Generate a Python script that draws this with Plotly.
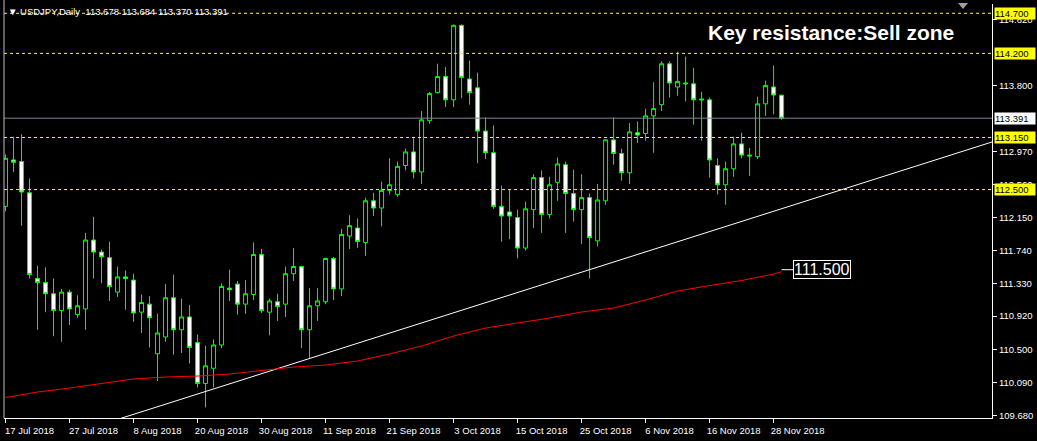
import plotly.graph_objects as go

# ---- data ----
opens = [112.29, 112.87, 112.85, 112.46, 111.39, 111.34, 111.20, 110.99, 111.22, 110.94,
         111.01, 111.87, 111.72, 111.65, 111.22, 111.41, 111.37, 110.97, 111.07, 110.45,
         110.66, 111.15, 110.75, 110.91, 110.59, 110.08, 110.27, 110.56, 111.27, 111.32,
         111.07, 111.19, 111.69, 110.97, 111.10, 111.07, 111.45, 111.54, 110.75, 111.05,
         111.10, 111.64, 111.26, 111.92, 112.02, 111.84, 112.36, 112.27, 112.49, 112.44,
         112.80, 112.97, 112.72, 113.36, 113.71, 113.91, 113.62, 114.55, 113.88, 113.77,
         113.23, 112.96, 112.29, 112.22, 112.15, 111.77, 112.25, 112.65, 112.19, 112.59,
         112.81, 112.45, 112.25, 112.40, 111.86, 112.36, 113.12, 112.95, 112.71, 113.21,
         113.20, 113.42, 113.56, 114.07, 113.78, 113.83, 113.82, 113.63, 113.62, 112.80,
         112.56, 112.76, 113.07, 112.93, 112.91, 113.57, 113.78, 113.678]
highs = [112.94, 113.16, 113.19, 112.64, 111.55, 111.53, 111.39, 111.26, 111.25, 111.18,
         111.96, 112.16, 111.75, 111.85, 111.54, 111.49, 111.45, 111.19, 111.17, 110.95,
         111.32, 111.44, 111.14, 111.06, 110.69, 110.55, 110.63, 111.33, 111.50, 111.36,
         111.37, 111.84, 111.76, 111.14, 111.20, 111.54, 111.77, 111.55, 111.27, 111.27,
         111.65, 111.66, 112.01, 112.18, 112.14, 112.40, 112.46, 112.60, 112.89, 112.85,
         113.01, 113.16, 113.48, 113.72, 114.07, 114.03, 114.56, 114.56, 114.11, 113.96,
         113.40, 113.30, 112.55, 112.50, 112.25, 112.35, 112.69, 112.74, 112.66, 112.90,
         112.85, 112.75, 112.69, 112.45, 112.57, 113.13, 113.40, 113.01, 113.33, 113.35,
         113.51, 113.84, 114.10, 114.10, 114.22, 114.16, 114.02, 113.72, 113.65, 112.89,
         112.85, 113.16, 113.21, 113.02, 113.66, 113.86, 114.05, 113.684]
lows = [112.23, 112.72, 112.05, 111.39, 110.75, 110.97, 110.67, 110.60, 110.81, 110.90,
        110.75, 111.39, 111.33, 111.11, 111.16, 111.00, 110.85, 110.71, 110.53, 110.11,
        110.60, 110.44, 110.46, 110.33, 110.03, 109.78, 110.03, 110.52, 111.11, 110.94,
        110.95, 111.12, 110.96, 110.68, 110.86, 110.91, 111.36, 110.52, 110.40, 110.86,
        111.07, 111.12, 111.17, 111.76, 111.77, 111.67, 112.17, 112.04, 112.44, 112.41,
        112.74, 112.64, 112.57, 113.32, 113.70, 113.53, 113.53, 113.64, 113.56, 112.83,
        112.88, 112.26, 111.85, 111.88, 111.64, 111.74, 112.02, 111.96, 112.14, 112.36,
        111.96, 112.10, 111.82, 111.39, 111.79, 112.31, 112.81, 112.61, 112.57, 113.08,
        113.11, 112.96, 113.48, 113.65, 113.67, 113.60, 113.31, 113.11, 112.65, 112.44,
        112.31, 112.66, 112.89, 112.67, 112.88, 113.42, 113.44, 113.370]
closes = [112.89, 112.84, 112.47, 111.44, 111.34, 111.20, 110.99, 111.22, 111.01, 111.05,
          111.87, 111.72, 111.66, 111.29, 111.41, 111.39, 110.96, 111.09, 110.90, 110.71,
          111.15, 110.75, 110.91, 110.53, 110.08, 110.30, 110.56, 111.29, 111.25, 111.07,
          111.20, 111.69, 110.99, 111.11, 111.04, 111.45, 111.54, 110.75, 111.05, 111.11,
          111.64, 111.26, 111.94, 112.05, 111.85, 112.36, 112.27, 112.49, 112.56, 112.79,
          112.97, 112.72, 113.37, 113.70, 113.91, 113.62, 114.55, 113.90, 113.71, 113.23,
          112.96, 112.29, 112.17, 112.17, 111.77, 112.26, 112.65, 112.19, 112.56, 112.82,
          112.45, 112.25, 112.40, 111.90, 112.37, 113.12, 112.95, 112.71, 113.22, 113.18,
          113.42, 113.51, 114.07, 113.83, 113.85, 113.82, 113.62, 113.62, 112.87, 112.56,
          112.76, 113.07, 112.93, 112.92, 113.57, 113.80, 113.68, 113.391]

date_labels = ["17 Jul 2018", "27 Jul 2018", "8 Aug 2018", "20 Aug 2018", "30 Aug 2018",
               "11 Sep 2018", "21 Sep 2018", "3 Oct 2018", "15 Oct 2018", "25 Oct 2018",
               "6 Nov 2018", "16 Nov 2018", "28 Nov 2018"]
price_ticks = [109.68, 110.09, 110.50, 110.92, 111.33, 111.74, 112.15, 112.56, 112.97,
               113.80, 114.62]

ma_idx = [0, 4, 8, 12, 16, 20, 24, 28, 32, 36, 40, 44, 48, 52, 56, 60, 64, 68, 72, 76,
          80, 84, 88, 92, 96, 97]
ma_val = [109.905, 109.973, 110.023, 110.082, 110.136, 110.161, 110.173, 110.198, 110.242,
          110.285, 110.310, 110.360, 110.448, 110.547, 110.672, 110.772, 110.835, 110.897,
          110.972, 111.022, 111.122, 111.234, 111.302, 111.365, 111.446, 111.475]

trend_idx = [0, 124]
trend_val = [109.188, 113.116]

levels = [114.700, 114.200, 113.150, 112.500]
bid = 113.391
ma_label = 111.500
title_text = "USDJPY,Daily  113.678 113.684 113.370 113.391"
note_text = "Key resistance:Sell zone"

# ---- figure ----
FONT = "Liberation Sans, Arial, sans-serif"
x = list(range(len(opens)))
bars_per_tick = 8
tick_pos = [i * bars_per_tick for i in range(len(date_labels))]

fig = go.Figure()
fig.add_trace(go.Scatter(x=trend_idx, y=trend_val, mode="lines",
                         line=dict(color="#ffffff", width=1), hoverinfo="skip"))
fig.add_trace(go.Scatter(x=ma_idx, y=ma_val, mode="lines",
                         line=dict(color="#ff0000", width=1), hoverinfo="skip"))
fig.add_trace(go.Candlestick(
    x=x, open=opens, high=highs, low=lows, close=closes,
    increasing=dict(line=dict(color="#00ff00", width=1), fillcolor="#000000"),
    decreasing=dict(line=dict(color="#00ff00", width=1), fillcolor="#ffffff"),
    whiskerwidth=0,
))

shapes = []
for lv in levels:
    shapes.append(dict(type="line", xref="paper", x0=0, x1=1, yref="y", y0=lv, y1=lv,
                       line=dict(color="#ffff00", width=1, dash="3px,3px")))
shapes.append(dict(type="line", xref="paper", x0=0, x1=1, yref="y", y0=bid, y1=bid,
                   line=dict(color="#778899", width=1)))
# left frame
shapes.append(dict(type="line", xref="paper", x0=0, x1=0, yref="paper", y0=0, y1=1.01,
                   line=dict(color="#c0c0c0", width=1)))
# chart shift marker
shapes.append(dict(type="path", xref="paper", yref="paper",
                   path="M 0.9656 1.0024 L 0.9757 1.0024 L 0.9706 0.988 Z",
                   fillcolor="#a0a0a0", line=dict(width=0)))

annotations = []
for lv in levels:
    annotations.append(dict(xref="paper", x=1, xanchor="left", xshift=2, yref="y", y=lv,
                            yanchor="middle", text=f"{lv:.3f}", showarrow=False,
                            bgcolor="#ffff00", font=dict(color="#000000", size=9.5, family=FONT),
                            borderpad=0, width=40, height=11, align="left"))
annotations.append(dict(xref="paper", x=1, xanchor="left", xshift=2, yref="y", y=bid,
                        yanchor="middle", text=f"{bid:.3f}", showarrow=False,
                        bgcolor="#ffffff", font=dict(color="#000000", size=9.5, family=FONT),
                        borderpad=0, width=40, height=11, align="left"))
annotations.append(dict(xref="paper", x=0, xanchor="left", xshift=2, yref="paper", y=0.983,
                        yanchor="middle", text="\u25BC " + title_text, showarrow=False,
                        font=dict(color="#ffffff", size=9.5, family=FONT)))
annotations.append(dict(xref="paper", x=0.7105, xanchor="left", yref="paper", y=0.930,
                        yanchor="middle", text=f"<b>{note_text}</b>", showarrow=False,
                        font=dict(color="#ffffff", size=21, family=FONT)))
annotations.append(dict(x=len(opens) - 1, y=ma_label, xref="x", yref="y",
                        text=f"{ma_label:.3f}", showarrow=True, arrowhead=0, arrowwidth=1,
                        arrowcolor="#ffffff", ax=40.5, ay=0, standoff=0,
                        bordercolor="#ffffff", borderwidth=1, borderpad=0, bgcolor="#000000",
                        font=dict(color="#ffffff", size=16, family=FONT)))

fig.update_layout(
    width=1037, height=441,
    margin=dict(l=4, r=45, t=4, b=23),
    paper_bgcolor="#000000", plot_bgcolor="#000000",
    showlegend=False,
    boxgap=0.5, boxgroupgap=0,
    shapes=shapes, annotations=annotations,
    xaxis=dict(range=[-0.19, 123.3], rangeslider=dict(visible=False), automargin=False,
               tickmode="array", tickvals=tick_pos, ticktext=date_labels,
               ticks="outside", ticklen=4, tickcolor="#ffffff", ticklabelshift=24,
               showgrid=False, zeroline=False, showline=True, linecolor="#ffffff",
               linewidth=1, tickfont=dict(color="#ffffff", size=9.5, family=FONT)),
    yaxis=dict(range=[109.649, 114.816], side="right", automargin=False,
               tickmode="array", tickvals=price_ticks,
               ticktext=[f"{v:.3f}" for v in price_ticks],
               ticks="outside", ticklen=4, tickcolor="#ffffff",
               showgrid=False, zeroline=False, showline=True, linecolor="#ffffff",
               linewidth=1, tickfont=dict(color="#ffffff", size=9.5, family=FONT)),
)

fig.write_html("out.html", config={"displayModeBar": False},
               post_script="document.body.style.margin='0';document.body.style.background='#000';")
